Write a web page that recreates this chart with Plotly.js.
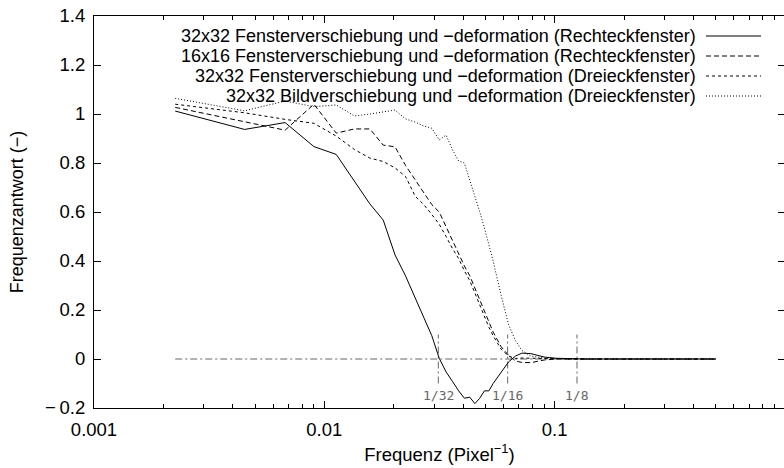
<!DOCTYPE html>
<html>
<head>
<meta charset="utf-8">
<script src="https://cdn.plot.ly/plotly-3.0.1.min.js"></script>
<style>
html,body{margin:0;padding:0;overflow:hidden;background:#fff;}
#chart{width:786px;height:468px;}
</style>
</head>
<body>
<div id="chart"></div>
<script>
// frequency index k, frequency = k * step (step = 0.5/222)
const step = 0.5 / 222;
const kIndex = [1,2,3,4,5,6,7,8,9,10,11,12,13,14,15,16,17,18,19,20,21,22,23,24,26,28,30,32,35,40,45,50,60,80,100,150,222];

const seriesNames = [
  "32x32 Fensterverschiebung und \u2212deformation (Rechteckfenster)",
  "16x16 Fensterverschiebung und \u2212deformation (Rechteckfenster)",
  "32x32 Fensterverschiebung und \u2212deformation (Dreieckfenster)",
  "32x32 Bildverschiebung und \u2212deformation (Dreieckfenster)"
];

const rect32 = [1.012,0.937,0.965,0.867,0.835,0.725,0.633,0.567,0.425,0.339,0.25,0.168,0.095,0.003,-0.053,-0.092,-0.13,-0.16,-0.156,-0.182,-0.16,-0.13,-0.13,-0.10,-0.055,-0.012,0.012,0.024,0.022,0.008,0.003,0.001,0,0,0,0,0];
const rect16 = [1.027,0.97,0.934,1.04,0.922,0.939,0.939,0.873,0.866,0.79,0.73,0.68,0.63,0.60,0.54,0.48,0.43,0.38,0.34,0.29,0.24,0.19,0.15,0.11,0.05,0.015,-0.008,-0.014,-0.015,-0.004,0.0,0,0,0,0,0,0];
const tri32 = [1.04,1.005,0.978,0.962,0.91,0.855,0.82,0.806,0.78,0.745,0.665,0.63,0.59,0.55,0.50,0.45,0.41,0.36,0.32,0.27,0.22,0.17,0.13,0.095,0.04,0.012,0.002,0.004,0.004,0.002,0.001,0,0,0,0,0,0];
const bild32 = [1.064,1.013,1.053,1.03,1.037,0.992,1.0,1.008,1.016,0.98,0.967,0.951,0.942,0.894,0.914,0.853,0.808,0.80,0.73,0.67,0.60,0.535,0.47,0.40,0.26,0.14,0.075,0.035,0.012,0.004,0.002,0,0,0,0,0,0];

// reference markers
const markFreqs = [1/32, 1/16, 1/8];
const markLabels = ["1/32", "1/16", "1/8"];
const markYRange = [-0.1, 0.1];
const zeroLineX = [0.5/222, 0.5];
const zeroLineY = [0, 0];

const xTickVals = [0.001, 0.01, 0.1, 1];
const xTickText = ["0.001", "0.01", "0.1", "1"];
const yTickVals = [-0.2, 0, 0.2, 0.4, 0.6, 0.8, 1, 1.2, 1.4];
const yTickText = ["\u2212\u20090.2", "0", "0.2", "0.4", "0.6", "0.8", "1", "1.2", "1.4"];

const freqs = kIndex.map(k => k * step);
const minorVals = [];
[0.001, 0.01, 0.1].forEach(d => { for (let m = 2; m <= 9; m++) minorVals.push(m * d); });

const FONT = "Liberation Sans, Arial, Helvetica, sans-serif";
const GRAY = "#666666";
const dashStyles = ["solid", "5px,3px", "3px,3px", "1px,2px"];
const allSeries = [rect32, rect16, tri32, bild32];

const traces = [];
traces.push({x: zeroLineX, y: zeroLineY, mode: "lines", line: {color: GRAY, width: 1, dash: "7px,3px,2px,3px"}, hoverinfo: "skip"});
markFreqs.forEach(f => {
  traces.push({x: [f, f], y: markYRange, mode: "lines", line: {color: GRAY, width: 1, dash: "7px,3px,2px,3px"}, hoverinfo: "skip"});
});
allSeries.forEach((s, i) => {
  traces.push({x: freqs, y: s, mode: "lines", name: seriesNames[i], line: {color: "#000", width: 1, dash: dashStyles[i]}});
});

const W = 786, L = 94, T = 16, B = 60, H = 468, R = 1;
const plotW = W - L - R, plotH = H - T - B;
const px2x = p => (p - L) / plotW;
const px2y = p => (H - B - p) / plotH;

const annotations = [];
const shapes = [];
const rowY = [36, 56, 76, 96];
seriesNames.forEach((n, i) => {
  annotations.push({xref: "paper", yref: "paper", x: px2x(698), y: px2y(rowY[i]), xanchor: "right", yanchor: "middle",
    text: n, showarrow: false, font: {family: FONT, size: 18, color: "#000"}});
  shapes.push({type: "line", xref: "paper", yref: "paper", x0: px2x(706), x1: px2x(761), y0: px2y(rowY[i]), y1: px2y(rowY[i]),
    line: {color: "#000", width: 1, dash: dashStyles[i]}});
});
markFreqs.forEach((f, i) => {
  annotations.push({xref: "x", yref: "y", x: Math.log10(f), y: -0.15, text: markLabels[i], showarrow: false,
    xanchor: "center", yanchor: "middle", font: {family: "DejaVu Sans Mono, monospace", size: 13, color: GRAY}});
});

const layout = {
  width: W, height: H,
  margin: {l: L, r: R, t: T, b: B},
  paper_bgcolor: "#fff", plot_bgcolor: "#fff",
  showlegend: false,
  font: {family: FONT, size: 18, color: "#000"},
  xaxis: {
    type: "log", range: [-3, 0], tickvals: xTickVals, ticktext: xTickText,
    ticks: "inside", ticklen: 7, tickwidth: 1, tickcolor: "#000",
    minor: {tickvals: minorVals, ticks: "inside", ticklen: 4, tickwidth: 1, tickcolor: "#000"},
    showline: true, linecolor: "#000", linewidth: 1, mirror: "ticks",
    showgrid: false, zeroline: false,
    ticklabelstandoff: 5,
    tickfont: {family: FONT, size: 18.5},
    title: {text: "Frequenz (Pixel<sup>\u22121</sup>)", font: {family: FONT, size: 18.5}, standoff: 8}
  },
  yaxis: {
    range: [-0.2, 1.4], tickvals: yTickVals, ticktext: yTickText,
    ticks: "inside", ticklen: 7, tickwidth: 1, tickcolor: "#000",
    showline: true, linecolor: "#000", linewidth: 1, mirror: "ticks",
    showgrid: false, zeroline: false,
    ticklabelstandoff: 4,
    tickfont: {family: FONT, size: 18.5},
    title: {text: "Frequenzantwort (\u2212)", font: {family: FONT, size: 18}, standoff: 16}
  },
  annotations: annotations,
  shapes: shapes
};

Plotly.newPlot("chart", traces, layout, {staticPlot: true, displayModeBar: false});
</script>
</body>
</html>
